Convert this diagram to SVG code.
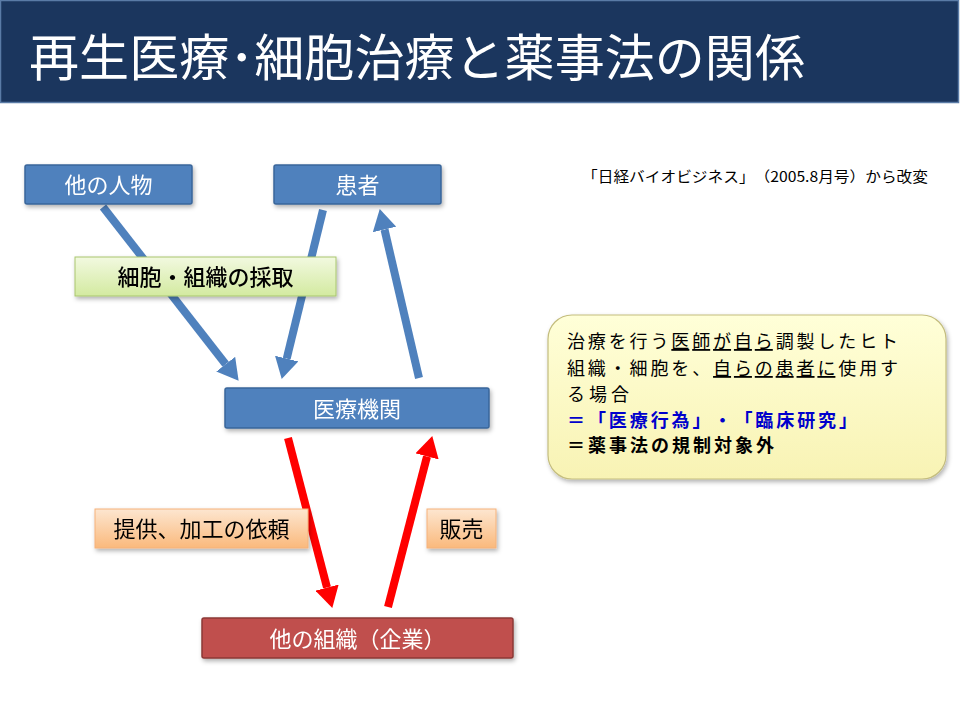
<svg xmlns="http://www.w3.org/2000/svg" width="960" height="720" viewBox="0 0 960 720">
<defs>
<style>
.jp{font-family:"Noto Sans CJK JP","Noto Sans CJK SC",sans-serif;text-spacing-trim:space-all;}
.nodeB{fill:#4F81BD;stroke:#3A669A;stroke-width:1.5;}
.nodeR{fill:#C0504D;stroke:#8C3836;stroke-width:1.5;}
.wt{fill:#FFFFFF;font-size:22px;text-anchor:middle;}
.bk{fill:#000000;font-size:22px;text-anchor:middle;}
.ct{font-size:18px;fill:#000000;}
.ctb{font-size:18px;fill:#0000CC;font-weight:bold;}
.blue{stroke:#4F81BD;stroke-width:8;fill:none;}
.red{stroke:#FF0000;stroke-width:8;fill:none;}
</style>
<linearGradient id="gGreen" x1="0" y1="0" x2="0" y2="1">
<stop offset="0" stop-color="#F2F9E0"/>
<stop offset="1" stop-color="#D3EAA0"/>
</linearGradient>
<linearGradient id="gOrange" x1="0" y1="0" x2="0" y2="1">
<stop offset="0" stop-color="#FDE6D0"/>
<stop offset="1" stop-color="#FAB97C"/>
</linearGradient>
<linearGradient id="gYellow" x1="0" y1="0" x2="0" y2="1">
<stop offset="0" stop-color="#FFFFD8"/>
<stop offset="1" stop-color="#F8F3B4"/>
</linearGradient>
<filter id="sh" x="-10%" y="-20%" width="120%" height="150%">
<feDropShadow dx="1.5" dy="2.5" stdDeviation="2" flood-color="#000" flood-opacity="0.3"/>
</filter>
<marker id="hB" markerUnits="userSpaceOnUse" markerWidth="21" markerHeight="24" refX="0" refY="12" orient="auto">
<path d="M0,0 L21,12 L0,24 z" fill="#4F81BD"/>
</marker>
<marker id="hR" markerUnits="userSpaceOnUse" markerWidth="21" markerHeight="24" refX="0" refY="12" orient="auto">
<path d="M0,0 L21,12 L0,24 z" fill="#FF0000"/>
</marker>
</defs>
<rect width="960" height="720" fill="#FFFFFF"/>
<g id="header">
<rect x="0.5" y="0.5" width="958" height="102" fill="#1B365E" stroke="#5A7BA6" stroke-width="1.5"/>
<text class="jp" x="29" y="76" font-size="50" fill="#FFFFFF" textLength="776" lengthAdjust="spacingAndGlyphs">再生医療･細胞治療と薬事法の関係</text>
</g>
<g id="citation">
<text class="jp" x="582" y="182" font-size="14.5" fill="#000000" textLength="346" lengthAdjust="spacingAndGlyphs">「日経バイオビジネス」（2005.8月号）から改変</text>
</g>
<g id="connectors">
<path class="blue" d="M103,207 L225.7,364.2" marker-end="url(#hB)"/>
<path class="blue" d="M323,210 L286.7,358.6" marker-end="url(#hB)"/>
<path class="blue" d="M419,378 L384.5,229.5" marker-end="url(#hB)"/>
<path class="red" d="M288,438 L327,587.6" marker-end="url(#hR)"/>
<path class="red" d="M388,607 L427,456.4" marker-end="url(#hR)"/>
</g>
<g id="node-other-person" filter="url(#sh)">
<rect class="nodeB" x="25" y="165" width="167" height="39" rx="2"/>
<text class="jp wt" x="108.5" y="193">他の人物</text>
</g>
<g id="node-patient" filter="url(#sh)">
<rect class="nodeB" x="274" y="165" width="167" height="39" rx="2"/>
<text class="jp wt" x="357.5" y="193">患者</text>
</g>
<g id="label-harvest" filter="url(#sh)">
<rect x="75" y="257" width="261" height="39" fill="url(#gGreen)" stroke="#A9C66E" stroke-width="1"/>
<text class="jp bk" x="205.5" y="285" font-size="23" font-weight="500">細胞・組織の採取</text>
</g>
<g id="node-medical" filter="url(#sh)">
<rect class="nodeB" x="225" y="388" width="264" height="40" rx="2"/>
<text class="jp wt" x="357" y="417">医療機関</text>
</g>
<g id="label-request" filter="url(#sh)">
<rect x="95" y="509" width="213" height="39" fill="url(#gOrange)" stroke="#F5B27A" stroke-width="1"/>
<text class="jp bk" x="201.5" y="537" font-size="23">提供、加工の依頼</text>
</g>
<g id="label-sale" filter="url(#sh)">
<rect x="427" y="509" width="69" height="39" fill="url(#gOrange)" stroke="#F5B27A" stroke-width="1"/>
<text class="jp bk" x="461.5" y="537" font-size="23">販売</text>
</g>
<g id="node-company" filter="url(#sh)">
<rect class="nodeR" x="202" y="618" width="311" height="40" rx="2"/>
<text class="jp wt" x="357.5" y="647">他の組織（企業）</text>
</g>
<g id="callout">
<rect x="548" y="315" width="398" height="164" rx="24" fill="url(#gYellow)" stroke="#C4BD7E" stroke-width="1.2" filter="url(#sh)"/>
<text class="jp ct" x="567" y="348" textLength="331" lengthAdjust="spacing">治療を行う<tspan text-decoration="underline">医師が自ら</tspan>調製したヒト</text>
<text class="jp ct" x="567" y="375" textLength="331" lengthAdjust="spacing">組織・細胞を、<tspan text-decoration="underline">自らの患者に</tspan>使用す</text>
<text class="jp ct" x="567" y="401" textLength="62" lengthAdjust="spacing">る場合</text>
<text class="jp ctb" x="567" y="427" textLength="290" lengthAdjust="spacing">＝「医療行為」・「臨床研究」</text>
<text class="jp ct" x="567" y="452" font-weight="bold" textLength="207" lengthAdjust="spacing">＝薬事法の規制対象外</text>
</g>
</svg>
